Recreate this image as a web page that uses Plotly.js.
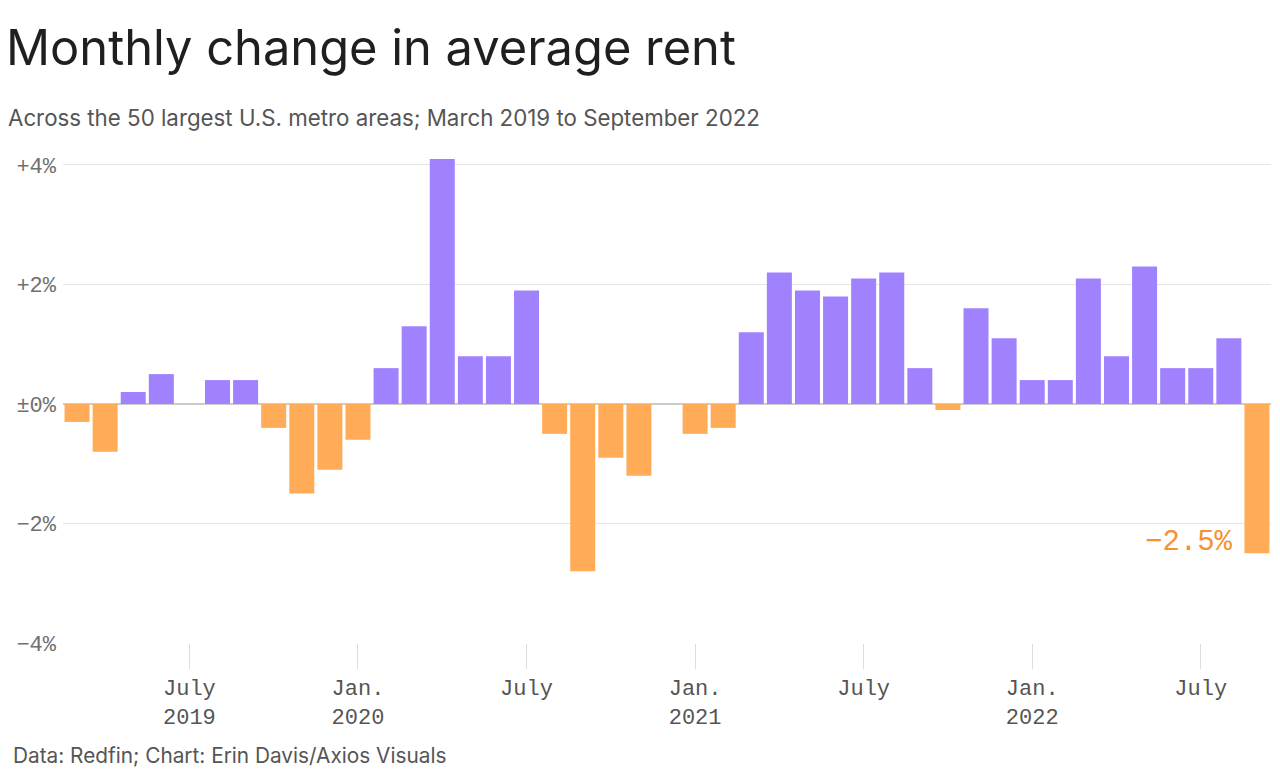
<!DOCTYPE html>
<html>
<head>
<meta charset="utf-8">
<script src="https://cdn.plot.ly/plotly-3.0.1.min.js"></script>
<style>
  html, body { margin: 0; padding: 0; background: #fff; }
  #chart { width: 1280px; height: 781px; }
</style>
</head>
<body>
<div id="chart"></div>
<script>
// Months March 2019 – September 2022
const months = [
  "2019-03","2019-04","2019-05","2019-06","2019-07","2019-08","2019-09","2019-10","2019-11","2019-12",
  "2020-01","2020-02","2020-03","2020-04","2020-05","2020-06","2020-07","2020-08","2020-09","2020-10","2020-11","2020-12",
  "2021-01","2021-02","2021-03","2021-04","2021-05","2021-06","2021-07","2021-08","2021-09","2021-10","2021-11","2021-12",
  "2022-01","2022-02","2022-03","2022-04","2022-05","2022-06","2022-07","2022-08","2022-09"
];
// Monthly change in average rent, percent
const changes = [
  -0.3, -0.8, 0.2, 0.5, 0.0, 0.4, 0.4, -0.4, -1.5, -1.1,
  -0.6, 0.6, 1.3, 4.1, 0.8, 0.8, 1.9, -0.5, -2.8, -0.9, -1.2, 0.0,
  -0.5, -0.4, 1.2, 2.2, 1.9, 1.8, 2.1, 2.2, 0.6, -0.1, 1.6, 1.1,
  0.4, 0.4, 2.1, 0.8, 2.3, 0.6, 0.6, 1.1, -2.5
];
const xTickMonths = ["2019-07","2020-01","2020-07","2021-01","2021-07","2022-01","2022-07"];
const xTickLabels = ["July<br>2019","Jan.<br>2020","July","Jan.<br>2021","July","Jan.<br>2022","July"];
const yTickVals = [4, 2, 0, -2, -4];
const yTickLabels = ["+4%", "+2%", "±0%", "−2%", "−4%"];
const annotationText = "−2.5%";

const PURPLE = "#a082ff";
const ORANGE = "#ffab57";

const xIdx = months.map((m, i) => i);
const tickIdx = xTickMonths.map(m => months.indexOf(m));

const trace = {
  type: "bar",
  x: xIdx,
  y: changes,
  marker: { color: changes.map(v => v < 0 ? ORANGE : PURPLE) },
  hoverinfo: "skip"
};

const monoFont = "Liberation Mono, DejaVu Sans Mono, monospace";
const sansFont = "Inter, Roboto, 'Noto Sans', sans-serif";

const last = changes.length - 1;

const layout = {
  width: 1280, height: 781,
  paper_bgcolor: "#ffffff",
  plot_bgcolor: "#ffffff",
  margin: { l: 63, r: 9, t: 156, b: 138 },
  bargap: 0.11,
  showlegend: false,
  xaxis: {
    range: [-0.5, last + 0.5],
    tickmode: "array",
    tickvals: tickIdx,
    ticktext: xTickLabels,
    ticks: "outside",
    ticklen: 25,
    tickwidth: 1,
    tickcolor: "#dddddd",
    showgrid: false,
    zeroline: false,
    showline: false,
    tickfont: { family: monoFont, size: 22, color: "#555555" },
    fixedrange: true
  },
  yaxis: {
    range: [-4, 4.15],
    tickmode: "array",
    tickvals: yTickVals,
    ticktext: yTickLabels,
    ticks: "",
    showgrid: true,
    gridcolor: "#e6e6e6",
    gridwidth: 1,
    zeroline: true,
    zerolinecolor: "#cccccc",
    zerolinewidth: 2,
    ticklabelstandoff: 6,
    tickfont: { family: monoFont, size: 22, color: "#707070" },
    fixedrange: true
  },
  title: {
    text: "Monthly change in average rent",
    font: { family: sansFont, size: 48.8, color: "#1f1f1f" },
    x: 0, xref: "paper", xanchor: "left",
    y: 1, yref: "container", yanchor: "top",
    pad: { t: 31, l: -57 }
  },
  annotations: [
    {
      text: "Across the 50 largest U.S. metro areas; March 2019 to September 2022",
      xref: "paper", yref: "paper", x: -0.047, y: 1.0, xanchor: "left", yanchor: "bottom",
      yshift: 23, showarrow: false,
      font: { family: sansFont, size: 22.3, color: "#555555" }
    },
    {
      text: "Data: Redfin; Chart: Erin Davis/Axios Visuals",
      xref: "paper", yref: "paper", x: -0.043, y: 0, xanchor: "left", yanchor: "top",
      yshift: -98, showarrow: false,
      font: { family: sansFont, size: 20.8, color: "#555555" }
    },
    {
      text: annotationText,
      xref: "x", yref: "y", x: last - 0.5, y: changes[last],
      xanchor: "right", yanchor: "bottom", yshift: -8, xshift: -8,
      showarrow: false,
      font: { family: monoFont, size: 29, color: "#f5922f" }
    }
  ]
};

Plotly.newPlot("chart", [trace], layout, { displayModeBar: false, staticPlot: true });
</script>
</body>
</html>
